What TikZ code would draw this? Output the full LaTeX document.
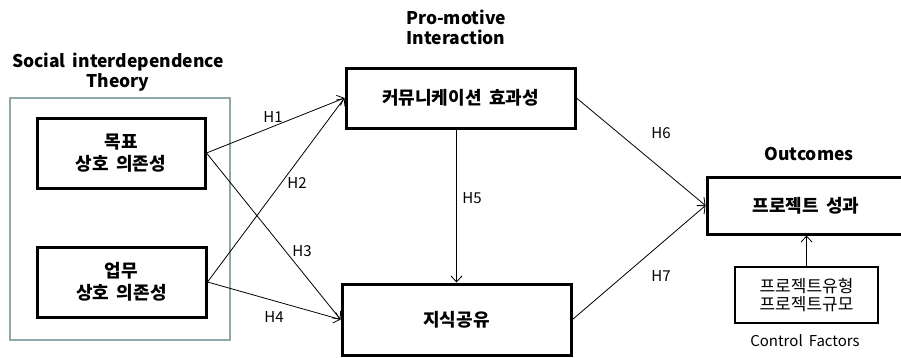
\documentclass[tikz,border=0pt]{standalone}
\usepackage{fontspec}
\setmainfont{Noto Sans CJK KR}[WordSpace=1.8]
\usetikzlibrary{arrows.meta}
\usetikzlibrary{calc}

\definecolor{framegray}{RGB}{143,168,168}

\tikzset{
  varbox/.style={draw, line width=3pt, minimum width=#1, font=\bfseries\fontsize{18}{22}\selectfont, align=center, inner sep=0pt},
  ctrlbox/.style={draw, line width=1.1pt, align=center, inner sep=0pt, font=\fontsize{17}{17.5}\selectfont},
  hyp/.style={font=\fontsize{15}{17}\selectfont},
  heading/.style={font=\bfseries\fontsize{17.5}{20}\selectfont, align=center},
  path/.style={-{Straight Barb[length=6pt,width=11pt]}, line width=0.8pt}
}

\begin{document}
\begin{tikzpicture}[x=1pt,y=-1pt]
\clip (0,0) rectangle (901,357);
\fill[white] (0,0) rectangle (901,357);

% theory frame
\draw[framegray, line width=2.2pt] (10,98) rectangle (230,340);
\node[heading] (sit) at (118,72) {Social interdependence\\Theory};
\node[heading] (pmi) at (456,27) {Pro-motive\\Interaction};
\node[heading] (outc) at (809,154) {Outcomes};

% variables
\node[varbox=168pt, minimum height=70pt] (goal) at (121,153) {목표\\상호 의존성};
\node[varbox=169pt, minimum height=70pt] (task) at (121.5,282) {업무\\상호 의존성};
\node[varbox=229pt, minimum height=60pt] (comm) at (460.5,98) {커뮤니케이션 효과성};
\node[varbox=229pt, minimum height=71pt] (know) at (456.5,319.5) {지식공유};
\node[varbox=198pt, minimum height=57pt] (perf) at (806,205.5) {프로젝트 성과};
\node[ctrlbox, minimum width=143pt, minimum height=56pt] (ctrl) at (806.5,295) {프로젝트유형\\프로젝트규모};
\node[hyp] (ctrllabel) at (805,341) {Control Factors};

% hypotheses
\draw[path] (goal.east) -- (comm.west);
\draw[path] (task.east) -- (comm.west);
\draw[path] (goal.east) -- (know.west);
\draw[path] (task.east) -- (know.west);
\draw[path] (know.north |- comm.south) -- (know.north);
\draw[path] (comm.east) -- (perf.west);
\draw[path] (know.east) -- (perf.west);
\draw[path] (ctrl.north) -- (perf.south -| ctrl.north);

\node[hyp] (h1) at (273,117) {H1};
\node[hyp] (h2) at (297,183) {H2};
\node[hyp] (h3) at (302,251) {H3};
\node[hyp] (h4) at (274,317) {H4};
\node[hyp] (h5) at (472,198) {H5};
\node[hyp] (h6) at (661,133) {H6};
\node[hyp] (h7) at (661,276) {H7};
\end{tikzpicture}
\end{document}
